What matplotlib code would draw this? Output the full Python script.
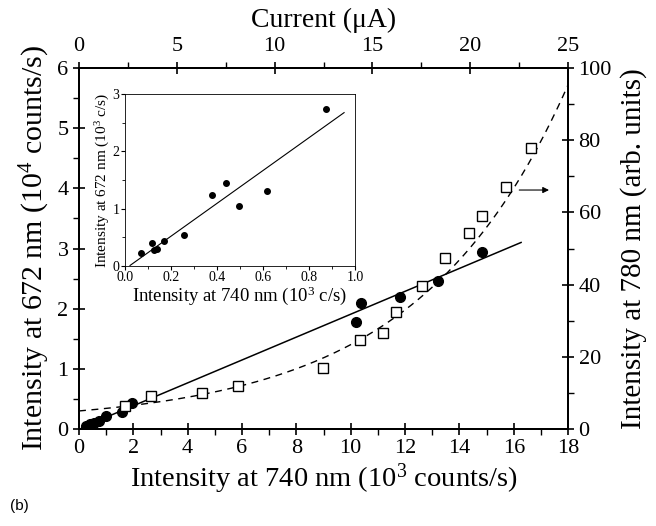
import numpy as np
import matplotlib
matplotlib.use('Agg')
import matplotlib.pyplot as plt
from matplotlib.ticker import MultipleLocator

plt.rcParams['font.family'] = 'Liberation Serif'
plt.rcParams['mathtext.fontset'] = 'custom'
plt.rcParams['mathtext.rm'] = 'Liberation Serif'
plt.rcParams['mathtext.it'] = 'Liberation Serif:italic'

# 672 nm intensity (filled circles, left axis)
circ_x = [0.25, 0.4, 0.55, 0.75, 1.0, 1.57, 1.95, 10.2, 10.37, 11.8, 13.2, 14.83]
circ_y = [0.05, 0.08, 0.10, 0.14, 0.22, 0.29, 0.43, 1.78, 2.10, 2.20, 2.46, 2.94]

# 780 nm intensity (open squares, right axis)
sq_x = [1.7, 2.65, 4.53, 5.86, 8.98, 10.33, 11.2, 11.68, 12.64, 13.47, 14.35, 14.83, 15.7, 16.64]
sq_y = [6.3, 9.1, 9.9, 11.9, 16.8, 24.7, 26.5, 32.4, 39.5, 47.3, 54.2, 59.1, 67.1, 77.9]

# exponential guide for the squares: a + b*exp(x/t)
fit_a, fit_b, fit_t = 1.44, 3.56, 5.5

# inset data (10^3 c/s)
ins_x = [0.070, 0.116, 0.126, 0.138, 0.168, 0.257, 0.377, 0.44, 0.497, 0.616, 0.874]
ins_y = [0.23, 0.39, 0.27, 0.30, 0.43, 0.53, 1.23, 1.44, 1.05, 1.31, 2.74]

fig = plt.figure(figsize=(6.56, 5.26), dpi=100)
ax = fig.add_axes([0.1204, 0.1844, 0.7456, 0.6863])

# main plot
ax.plot(circ_x, circ_y, 'o', color='black', ms=7, zorder=3)
k, c = np.polyfit(circ_x, circ_y, 1)
lx = np.array([0.1, 16.27])
ax.plot(lx, k * lx + c, '-', color='black', lw=1.1)

ax.set_xlim(0, 18)
ax.set_ylim(0, 6)
ax.xaxis.set_major_locator(MultipleLocator(2))
ax.xaxis.set_minor_locator(MultipleLocator(1))
ax.yaxis.set_major_locator(MultipleLocator(1))
ax.yaxis.set_minor_locator(MultipleLocator(0.5))
ax.tick_params(which='major', direction='inout', length=8, width=1.2, labelsize=16)
ax.tick_params(which='minor', direction='out', length=4, width=1.0)
ax.set_xlabel('Intensity at 740 nm (10$^3$ counts/s)', fontsize=20.5, labelpad=2)
ax.set_ylabel('Intensity at 672 nm (10$^4$ counts/s)', fontsize=21.5, labelpad=4)

axr = ax.twinx()
axr.plot(sq_x, sq_y, 's', mfc='white', mec='black', mew=1.0, ms=6.5, zorder=3)
fx = np.linspace(0, 18, 200)
axr.plot(fx, fit_a + fit_b * np.exp(fx / fit_t), '--', color='black', lw=1.0, dashes=(5, 4))
axr.annotate('', xy=(17.4, 66.2), xytext=(16.1, 66.2),
             arrowprops=dict(arrowstyle='-|>', color='black', lw=0.8, mutation_scale=9))
axr.set_ylim(0, 100)
axr.set_xlim(0, 18)
axr.yaxis.set_major_locator(MultipleLocator(20))
axr.yaxis.set_minor_locator(MultipleLocator(10))
axr.tick_params(which='major', direction='inout', length=8, width=1.2, labelsize=16)
axr.tick_params(which='minor', direction='out', length=4, width=1.0)
axr.set_ylabel('Intensity at 780 nm (arb. units)', fontsize=21, labelpad=6)

axt = ax.twiny()
axt.set_xlim(0, 25)
axt.xaxis.set_major_locator(MultipleLocator(5))
axt.xaxis.set_minor_locator(MultipleLocator(2.5))
axt.tick_params(which='major', direction='inout', length=8, width=1.2, labelsize=16, pad=5)
axt.tick_params(which='minor', direction='out', length=4, width=1.0)
axt.set_xlabel('Current (\u03bcA)', fontsize=20, labelpad=7)

for a in (ax, axr, axt):
    for s in a.spines.values():
        s.set_linewidth(1.3)

# inset
ins = fig.add_axes([0.1905, 0.4949, 0.3505, 0.3258])
ins.plot(ins_x, ins_y, 'o', color='black', ms=4)
ki, ci = np.polyfit(ins_x, ins_y, 1)
ix = np.array([0.022, 0.953])
ins.plot(ix, ki * ix + ci, '-', color='black', lw=0.8)
ins.set_xlim(0, 1.0)
ins.set_ylim(0, 3)
ins.xaxis.set_major_locator(MultipleLocator(0.2))
ins.xaxis.set_minor_locator(MultipleLocator(0.1))
ins.yaxis.set_major_locator(MultipleLocator(1))
ins.yaxis.set_minor_locator(MultipleLocator(0.5))
ins.tick_params(which='major', direction='out', length=3, width=0.8, labelsize=10, pad=1)
ins.tick_params(which='minor', direction='out', length=2, width=0.6)
ins.xaxis.set_major_formatter(plt.FormatStrFormatter('%.1f'))
ins.set_xlabel('Intensity at 740 nm (10$^3$ c/s)', fontsize=13.5, labelpad=0)
ins.set_ylabel('Intensity at 672 nm (10$^3$ c/s)', fontsize=11, labelpad=0)
for s in ins.spines.values():
    s.set_linewidth(0.6)

fig.text(0.015, 0.03, '(b)', fontsize=11, family='Liberation Sans')

fig.savefig('out.png', dpi=100)
